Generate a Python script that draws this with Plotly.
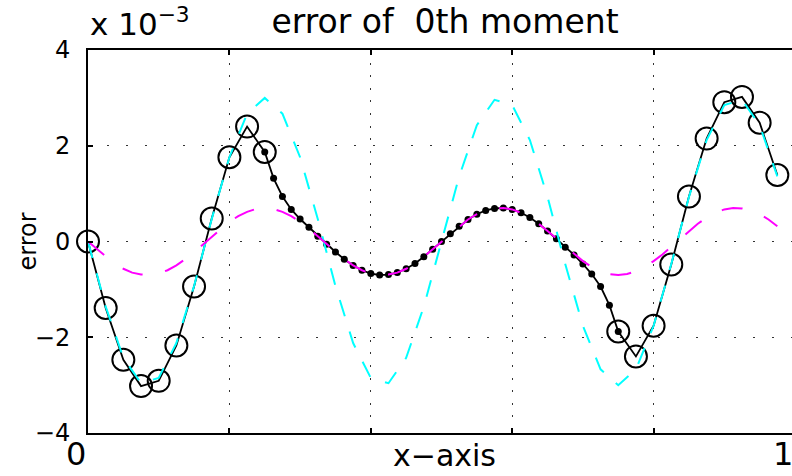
import plotly.graph_objects as go

# ---------------- data (error values in units of 1e-3) ----------------
# coarse-grid error (cyan dashed), sampled every 0.025
CYAN_X = [k * 0.025 for k in range(40)]
CYAN_Y = [0.00, -1.36, -2.43, -2.96, -2.85, -2.12, -0.93, 0.47, 1.76, 2.67,
          3.00, 2.67, 1.76, 0.47, -0.93, -2.12, -2.85, -2.96, -2.43, -1.36,
          0.00, 1.36, 2.43, 2.96, 2.85, 2.12, 0.93, -0.47, -1.76, -2.67,
          -3.00, -2.67, -1.76, -0.47, 0.93, 2.12, 2.85, 2.96, 2.43, 1.36]

# fine-grid error (magenta dashed), sampled every 0.0125
MAG_X = [k * 0.0125 for k in range(79)]
MAG_Y = [0.00, -0.16, -0.32, -0.46, -0.57, -0.65, -0.69, -0.70, -0.67, -0.60,
         -0.50, -0.37, -0.22, -0.06, 0.11, 0.27, 0.41, 0.53, 0.62, 0.68,
         0.70, 0.68, 0.62, 0.53, 0.41, 0.27, 0.11, -0.06, -0.22, -0.37,
         -0.50, -0.60, -0.67, -0.70, -0.69, -0.65, -0.57, -0.46, -0.32, -0.16,
         0.00, 0.16, 0.32, 0.46, 0.57, 0.65, 0.69, 0.70, 0.67, 0.60,
         0.50, 0.37, 0.22, 0.06, -0.11, -0.27, -0.41, -0.53, -0.62, -0.68,
         -0.70, -0.68, -0.62, -0.53, -0.41, -0.27, -0.11, 0.06, 0.22, 0.37,
         0.50, 0.60, 0.67, 0.70, 0.69, 0.65, 0.57, 0.46, 0.32]

# composite-grid error: coarse nodes (open circles)
CIRCLE_X = [0.0, 0.025, 0.05, 0.075, 0.1, 0.125, 0.15, 0.175, 0.2, 0.225, 0.25,
            0.75, 0.775, 0.8, 0.825, 0.85, 0.875, 0.9, 0.925, 0.95, 0.975]
CIRCLE_Y = [0.00, -1.39, -2.47, -3.02, -2.91, -2.17, -0.94, 0.48, 1.76, 2.40, 1.87,
            -1.88, -2.40, -1.76, -0.48, 0.94, 2.15, 2.91, 3.02, 2.48, 1.39]

# composite-grid error: fine nodes (dots)
DOT_X = [0.25 + k * 0.0125 for k in range(41)]
DOT_Y = [1.87, 1.32, 0.94, 0.67, 0.47, 0.30, 0.11, -0.06, -0.22, -0.37,
         -0.50, -0.60, -0.67, -0.70, -0.69, -0.65, -0.57, -0.46, -0.32, -0.16,
         0.00, 0.16, 0.32, 0.46, 0.57, 0.65, 0.69, 0.70, 0.67, 0.60,
         0.50, 0.37, 0.22, 0.06, -0.12, -0.28, -0.47, -0.68, -0.94, -1.33,
         -1.88]

Y_TICKS = [-4, -2, 0, 2, 4]
X_TICKS = [0, 0.2, 0.4, 0.6, 0.8]
X_LABELS = ["0", "1"]
X_LABEL_POS = [0, 1]

TITLE = "error of  0th moment"
FONT = "DejaVu Sans"

# composite line = union of coarse and fine nodes, ordered by x
merged = {}
for x, y in zip(CIRCLE_X, CIRCLE_Y):
    merged[round(x, 5)] = y
for x, y in zip(DOT_X, DOT_Y):
    merged[round(x, 5)] = y
LINE_X = sorted(merged)
LINE_Y = [merged[x] for x in LINE_X]

fig = go.Figure()
fig.add_trace(go.Scatter(x=LINE_X, y=LINE_Y, mode="lines",
                         line=dict(color="black", width=1.8), showlegend=False))
fig.add_trace(go.Scatter(x=CIRCLE_X, y=CIRCLE_Y, mode="markers", cliponaxis=False,
                         marker=dict(symbol="circle-open", size=22, color="black",
                                     line=dict(width=2, color="black")),
                         showlegend=False))
fig.add_trace(go.Scatter(x=DOT_X, y=DOT_Y, mode="markers",
                         marker=dict(symbol="circle", size=7, color="black"),
                         showlegend=False))
fig.add_trace(go.Scatter(x=CYAN_X, y=CYAN_Y, mode="lines",
                         line=dict(color="#00FFFF", width=2, dash="17px,16px"),
                         showlegend=False))
fig.add_trace(go.Scatter(x=MAG_X, y=MAG_Y, mode="lines",
                         line=dict(color="#FF00FF", width=2, dash="21px,23px"),
                         showlegend=False))

W, H = 792, 476
L, T, B = 88, 50, 43
plot_w = W - L
plot_h = H - B - T
px_per_unit = 707.0
x_max = plot_w / px_per_unit

fig.update_layout(
    width=W, height=H,
    margin=dict(l=L, r=0, t=T, b=B, pad=0),
    paper_bgcolor="white", plot_bgcolor="white",
    font=dict(family=FONT, color="black"),
    title=dict(text=TITLE, font=dict(size=33, family=FONT, color="black"),
               x=445 / W, xanchor="center", xref="container",
               y=1 - 21 / H, yanchor="middle", yref="container"),
    xaxis=dict(range=[0, x_max], tickvals=X_TICKS, showticklabels=False,
               ticks="inside", ticklen=5, tickwidth=1.5, tickcolor="black",
               showline=True, linecolor="black", linewidth=2, mirror="ticks",
               showgrid=True, gridcolor="#333333", gridwidth=1,
               griddash="2px,10.6px", zeroline=False),
    yaxis=dict(range=[-4, 4], tickvals=Y_TICKS,
               ticks="inside", ticklen=5, tickwidth=1.5, tickcolor="black",
               showline=True, linecolor="black", linewidth=2,
               showgrid=True, gridcolor="#333333", gridwidth=1,
               griddash="2px,17px", zeroline=False,
               tickfont=dict(size=24, family=FONT, color="black"),
               ticklabelstandoff=11),
)

annotations = [
    dict(text="x 10<sup>\u22123</sup>", xref="paper", yref="paper", x=0, y=1,
         xanchor="left", yanchor="bottom", yshift=6, showarrow=False,
         font=dict(size=31, family=FONT, color="black")),
    dict(text="error", xref="paper", yref="paper", x=(27 - L) / plot_w, y=0.5,
         xanchor="center", yanchor="middle", textangle=-90, showarrow=False,
         font=dict(size=24, family=FONT, color="black")),
    dict(text="x\u2212axis", xref="paper", yref="paper", x=(444 - L) / plot_w,
         y=-(455 - (H - B)) / plot_h, xanchor="center", yanchor="middle",
         showarrow=False, font=dict(size=30, family=FONT, color="black")),
]
for lab, pos in zip(X_LABELS, X_LABEL_POS):
    annotations.append(dict(text=lab, xref="paper", yref="paper",
                            x=pos / x_max, xshift=-12,
                            y=-(454 - (H - B)) / plot_h,
                            xanchor="center", yanchor="middle", showarrow=False,
                            font=dict(size=32, family=FONT, color="black")))
fig.update_layout(annotations=annotations)

fig.write_html("out.html")
